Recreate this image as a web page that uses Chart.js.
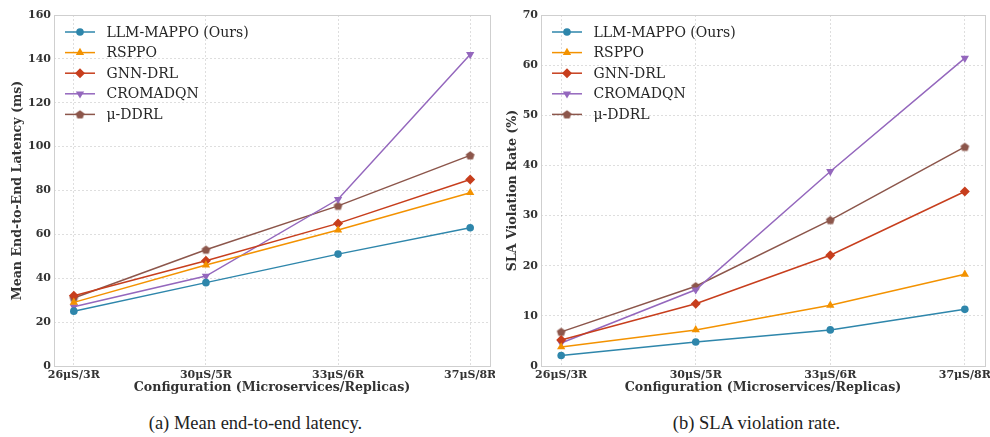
<!DOCTYPE html>
<html>
<head>
<meta charset="utf-8">
<script src="https://cdn.jsdelivr.net/npm/chart.js@4.4.1/dist/chart.umd.min.js"></script>
<style>
  html, body { margin: 0; padding: 0; background: #fff; }
  #wrap { position: relative; width: 990px; height: 437px; overflow: hidden; }
  .panel { position: absolute; top: 0; }
  .caption { position: absolute; top: 412px; width: 495px; text-align: center; line-height: 22px;
    font-family: "Liberation Serif", "Times New Roman", serif; font-size: 18.5px; color: #222; }
</style>
</head>
<body>
<div id="wrap">
  <canvas id="latency" class="panel" width="495" height="398" style="left:0"></canvas>
  <canvas id="sla" class="panel" width="495" height="398" style="left:495px"></canvas>
  <div class="caption" style="left:8px">(a) Mean end-to-end latency.</div>
  <div class="caption" style="left:509px">(b) SLA violation rate.</div>
</div>
<script>
const categories = ['26μS/3R', '30μS/5R', '33μS/6R', '37μS/8R'];
const methods = ['LLM-MAPPO (Ours)', 'RSPPO', 'GNN-DRL', 'CROMADQN', 'μ-DDRL'];

// mean end-to-end latency (ms)
const latencyOurs = [25, 38, 51, 63];
const latencyRsppo = [29, 46, 62, 79];
const latencyGnn = [32, 48, 65, 85];
const latencyCromadqn = [27, 41, 76, 142];
const latencyMuddrl = [31, 53, 73, 96];

// SLA violation rate (%)
const slaOurs = [2.1, 4.8, 7.2, 11.3];
const slaRsppo = [3.8, 7.2, 12.1, 18.3];
const slaGnn = [5.2, 12.4, 22.1, 34.8];
const slaCromadqn = [4.6, 15.2, 38.8, 61.4];
const slaMuddrl = [6.8, 15.9, 29.1, 43.7];

const colors = ['#2e86ab', '#f39200', '#c73e1d', '#9467bd', '#8c564b'];

Chart.defaults.font.family = '"DejaVu Serif", serif';

// pentagon marker for the last series
function pentagon(color) {
  const c = document.createElement('canvas');
  c.width = 11; c.height = 11;
  const g = c.getContext('2d');
  g.fillStyle = color;
  g.beginPath();
  for (let k = 0; k < 5; k++) {
    const a = -Math.PI / 2 + k * 2 * Math.PI / 5;
    const px = 5.5 + 4.6 * Math.cos(a), py = 5.8 + 4.6 * Math.sin(a);
    k ? g.lineTo(px, py) : g.moveTo(px, py);
  }
  g.closePath();
  g.fill();
  return c;
}

const markers = [
  { pointStyle: 'circle', radius: 3.8, rotation: 0 },
  { pointStyle: 'triangle', radius: 4.8, rotation: 0 },
  { pointStyle: 'rectRot', radius: 5, rotation: 0 },
  { pointStyle: 'triangle', radius: 4.8, rotation: 180 },
  { pointStyle: pentagon(colors[4]), radius: 4.5, rotation: 0 }
];

const frame = {
  id: 'frame',
  beforeDatasetsDraw(chart) {
    const { ctx, chartArea: a } = chart;
    ctx.save();
    ctx.strokeStyle = '#cfcfcf';
    ctx.lineWidth = 1;
    ctx.strokeRect(a.left + 0.5, a.top + 0.5, a.right - a.left, a.bottom - a.top);
    ctx.restore();
  }
};

const lineLegend = {
  id: 'lineLegend',
  afterDraw(chart) {
    const { ctx, chartArea: a } = chart;
    ctx.save();
    chart.data.datasets.forEach((ds, i) => {
      const y = a.top + 17 + i * 20.6;
      const x0 = a.left + 11;
      ctx.strokeStyle = ds.borderColor;
      ctx.lineWidth = ds.borderWidth;
      ctx.beginPath();
      ctx.moveTo(x0, y);
      ctx.lineTo(x0 + 30, y);
      ctx.stroke();
      ctx.fillStyle = ds.backgroundColor;
      Chart.helpers.drawPoint(ctx, {
        pointStyle: ds.pointStyle, radius: ds.pointRadius,
        rotation: ds.pointRotation, borderWidth: 0
      }, x0 + 15, y);
      ctx.fillStyle = '#262626';
      ctx.font = '14px "DejaVu Serif"';
      ctx.textBaseline = 'middle';
      ctx.fillText(ds.label, x0 + 41.5, y + 1);
    });
    ctx.restore();
  }
};

const tickFont = { size: 11, weight: 'bold' };
const titleFont = { size: 12.6, weight: 'bold' };
const gridColor = 'rgba(0,0,0,0.13)';

function makePanel(id, series, yTitle, yMax, yStep, yAxisWidth, padRight) {
  return new Chart(document.getElementById(id), {
    type: 'line',
    data: {
      datasets: series.map((vals, i) => ({
        label: methods[i],
        data: vals.map((v, k) => ({ x: k, y: v })),
        borderColor: colors[i],
        backgroundColor: colors[i],
        borderWidth: 1.5,
        pointStyle: markers[i].pointStyle,
        pointRadius: markers[i].radius,
        pointRotation: markers[i].rotation,
        pointBackgroundColor: colors[i],
        pointBorderColor: colors[i],
        pointBorderWidth: 0,
        tension: 0
      }))
    },
    options: {
      responsive: false,
      animation: false,
      devicePixelRatio: 1,
      layout: { padding: { top: 15, right: padRight, left: 0, bottom: 0 } },
      plugins: { legend: { display: false }, tooltip: { enabled: false } },
      scales: {
        x: {
          type: 'linear',
          min: -0.15,
          max: 3.15,
          afterBuildTicks: s => { s.ticks = categories.map((c, k) => ({ value: k })); },
          afterFit: s => { s.height = 32; s.paddingLeft = 0; s.paddingRight = 0; },
          ticks: {
            callback: v => categories[v],
            autoSkip: false, maxRotation: 0, padding: 3,
            font: tickFont, color: '#333'
          },
          grid: { color: gridColor, drawTicks: false },
          border: { display: false, dash: [2, 2] },
          title: {
            display: true, text: 'Configuration (Microservices/Replicas)',
            font: titleFont, color: '#333', padding: { top: 0, bottom: 3 }
          }
        },
        y: {
          min: 0,
          max: yMax,
          afterFit: s => { s.width = yAxisWidth; s.paddingTop = 0; s.paddingBottom = 0; },
          ticks: { stepSize: yStep, padding: 3, font: tickFont, color: '#333' },
          grid: { color: gridColor, drawTicks: false },
          border: { display: false, dash: [2, 2] },
          title: {
            display: true, text: yTitle,
            font: titleFont, color: '#333', padding: { top: 10, bottom: 0 }
          }
        }
      }
    },
    plugins: [frame, lineLegend]
  });
}

makePanel('latency',
  [latencyOurs, latencyRsppo, latencyGnn, latencyCromadqn, latencyMuddrl],
  'Mean End-to-End Latency (ms)', 160, 20, 54, 5);

makePanel('sla',
  [slaOurs, slaRsppo, slaGnn, slaCromadqn, slaMuddrl],
  'SLA Violation Rate (%)', 70, 10, 46, 4);
</script>
</body>
</html>
